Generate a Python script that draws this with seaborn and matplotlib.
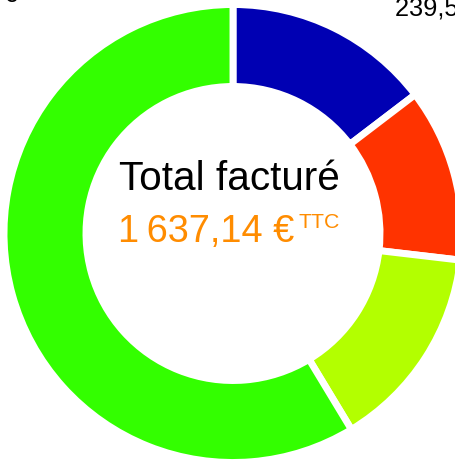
import matplotlib
matplotlib.use("Agg")
import matplotlib.pyplot as plt
import seaborn as sns

# values (clockwise from 12 o'clock)
segments = ["bleu", "rouge", "jaune", "vert"]
values = [239.52, 200.15, 237.30, 960.17]
colors = ["#0000b3", "#ff3300", "#b3ff00", "#33ff00"]
total = 1637.14
title = "Total facturé"
unit = "TTC"


def fmt(v):
    return f"{v:,.2f}".replace(",", "\u2009").replace(".", ",") + " €"


sns.set_theme(style="white")
plt.rcParams['font.family'] = ['Liberation Sans', 'DejaVu Sans']

fig = plt.figure(figsize=(4.56, 4.61), dpi=100)
ax = fig.add_axes([0, 0, 1, 1])
wedges, _ = ax.pie(values, colors=sns.color_palette(colors), startangle=90,
                   counterclock=False, radius=229,
                   wedgeprops=dict(width=82, edgecolor="white", linewidth=5))
ax.set_xlim(-233, 223)
ax.set_ylim(-227.5, 233.5)
ax.axis('off')

# segment labels (only two fall inside the visible frame)
ax.text(162, 218.5, fmt(values[0]), ha='left', va='baseline', fontsize=18.3, color='black')
ax.text(-215, 232, fmt(values[3]), ha='right', va='baseline', fontsize=18.3, color='black')

# centre text
ax.text(-4, 43.5, title, ha='center', va='baseline', fontsize=29.2, color='black')
ax.text(-115, -8.2, fmt(total), ha='left', va='baseline', fontsize=27.4, color='#ff8c00')
ax.text(65.6, 5.2, unit, ha='left', va='baseline', fontsize=15.3, color='#ff8c00')

fig.savefig("out.png", dpi=100)
